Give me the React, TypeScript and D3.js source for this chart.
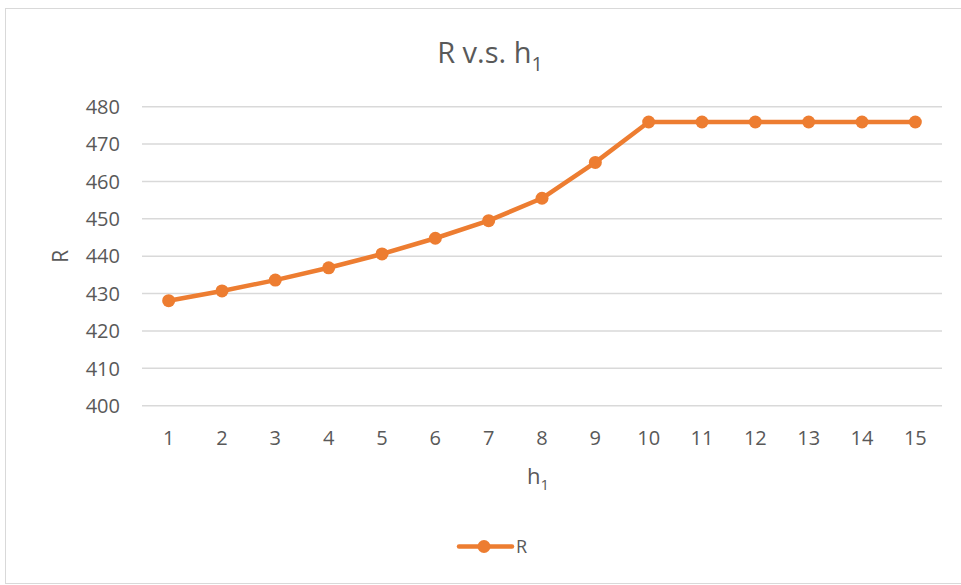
import React from "react";
import * as d3 from "d3";

const categories: number[] = [1, 2, 3, 4, 5, 6, 7, 8, 9, 10, 11, 12, 13, 14, 15];
const rValues: number[] = [428.1, 430.7, 433.6, 436.9, 440.6, 444.8, 449.5, 455.5, 465.1, 475.9, 475.9, 475.9, 475.9, 475.9, 475.9];
const yTicks: number[] = [400, 410, 420, 430, 440, 450, 460, 470, 480];
const seriesName = "R";

const W = 961;
const H = 585;
const plot = { left: 142, right: 942, top: 106.7, bottom: 405.7 };
const ORANGE = "#ED7D31";
const TEXT = "#595959";
const GRID = "#D9D9D9";
const FONT = "'Open Sans', 'Liberation Sans', sans-serif";

export default function App() {
  const x = d3
    .scaleBand<number>()
    .domain(categories)
    .range([plot.left, plot.right]);
  const xc = (c: number) => (x(c) as number) + x.bandwidth() / 2;
  const y = d3.scaleLinear().domain([400, 480]).range([plot.bottom, plot.top]);

  const line = d3
    .line<number>()
    .x((_, i) => xc(categories[i]))
    .y((v) => y(v));

  return (
    <svg
      width={W}
      height={H}
      style={{ position: "absolute", left: 0, top: 0, background: "#fff" }}
      fontFamily={FONT}
    >
      <rect x={5.5} y={8.5} width={1000} height={575} fill="#fff" stroke={GRID} strokeWidth={1} />

      <text x={490} y={63} textAnchor="middle" fontSize={29} fill={TEXT}>
        R v.s. h<tspan fontSize={20} dy={8}>1</tspan>
      </text>

      {yTicks.map((t) => (
        <g key={t}>
          <line x1={plot.left} x2={plot.right} y1={y(t)} y2={y(t)} stroke={GRID} strokeWidth={1.5} />
          <text x={120} y={y(t)} dy="0.36em" textAnchor="end" fontSize={20} fill={TEXT}>
            {t}
          </text>
        </g>
      ))}

      {categories.map((c) => (
        <text key={c} x={xc(c)} y={438} dy="0.36em" textAnchor="middle" fontSize={20} fill={TEXT}>
          {c}
        </text>
      ))}

      <text x={538} y={484} textAnchor="middle" fontSize={22} fill={TEXT}>
        h<tspan fontSize={15} dy={6}>1</tspan>
      </text>
      <text
        transform={`translate(68, ${(plot.top + plot.bottom) / 2}) rotate(-90)`}
        textAnchor="middle"
        fontSize={21}
        fill={TEXT}
      >
        R
      </text>

      <path d={line(rValues) || ""} fill="none" stroke={ORANGE} strokeWidth={4.5} strokeLinejoin="round" />
      {rValues.map((v, i) => (
        <circle key={i} cx={xc(categories[i])} cy={y(v)} r={6.5} fill={ORANGE} />
      ))}

      <line x1={459} x2={512} y1={546.5} y2={546.5} stroke={ORANGE} strokeWidth={4.5} strokeLinecap="round" />
      <circle cx={484} cy={546.5} r={6.5} fill={ORANGE} />
      <text x={516} y={547} dy="0.36em" fontSize={18} fill={TEXT}>
        {seriesName}
      </text>
    </svg>
  );
}
